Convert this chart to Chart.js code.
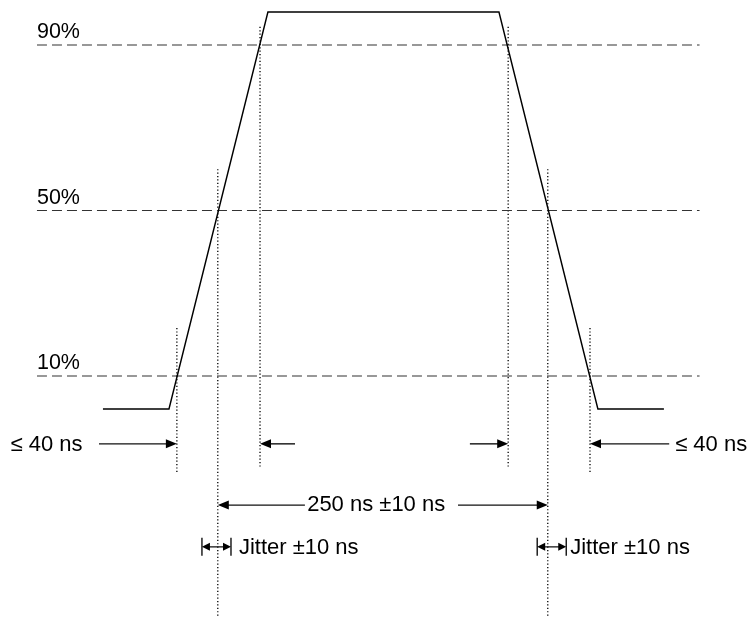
<!DOCTYPE html>
<html>
<head>
<meta charset="utf-8">
<script src="https://cdn.jsdelivr.net/npm/chart.js@4/dist/chart.umd.min.js"></script>
<style>
  html, body { margin: 0; padding: 0; background: #fff; }
  #wrap { width: 748px; height: 617px; }
</style>
</head>
<body>
<div id="wrap"><canvas id="chart"></canvas></div>
<script>
// waveform (time in ns, level in % of swing)
const waveTime = [-87, -37, 38, 213, 288, 338];
const waveLevel = [2, 2, 98, 98, 2, 2];

// threshold lines
const thresholdLevels = [10, 50, 90];
const thresholdLabels = ['10%', '50%', '90%'];
const thresholdSpan = [-137, 365];

// where the edges cross the thresholds
const crossingTimes = [-31, 0, 32, 220, 250, 282];
const crossingLevels = [10, 50, 90, 90, 50, 10];

// dimension annotations
const edgeLabel = '≤ 40 ns';
const periodLabel = '250 ns ±10 ns';
const jitterLabel = 'Jitter ±10 ns';
const jitterLeft = [-12, 10];
const jitterRight = [242, 264];

// layout only
const guideExtent = { 10: [21.6, -13.2], 50: [60, -48.3], 90: [94.4, -12] };
const rowEdge = -6.4, rowPeriod = -21.2, rowJitter = -31.3;

const FONT = '22px "Liberation Sans", Arial, sans-serif';
const LABEL_FONT = '21.5px "Liberation Sans", Arial, sans-serif';

const datasets = [];
datasets.push({
    data: waveTime.map((t, i) => ({ x: t, y: waveLevel[i] })),
    borderColor: '#000',
    borderWidth: 1.5
});
thresholdLevels.forEach(lv => {
    datasets.push({
        data: [{ x: thresholdSpan[0], y: lv }, { x: thresholdSpan[1], y: lv }],
        borderColor: '#333',
        borderWidth: 1.2,
        borderDash: [10, 5]
    });
});
crossingTimes.forEach((t, i) => {
    const ext = guideExtent[crossingLevels[i]];
    datasets.push({
        data: [{ x: t, y: ext[0] }, { x: t, y: ext[1] }],
        borderColor: '#000',
        borderWidth: 1.3,
        borderDash: [1.2, 2.2]
    });
});

function arrowHead(ctx, x, y, dir, len, half) {
    ctx.beginPath();
    ctx.moveTo(x, y);
    ctx.lineTo(x - dir * len, y - half);
    ctx.lineTo(x - dir * len, y + half);
    ctx.closePath();
    ctx.fill();
}

function arrow(ctx, x0, x1, y) {
    const dir = x1 > x0 ? 1 : -1;
    ctx.beginPath();
    ctx.moveTo(x0, y);
    ctx.lineTo(x1 - dir * 8, y);
    ctx.stroke();
    arrowHead(ctx, x1, y, dir, 11, 4.5);
}

const annotate = {
    id: 'annotate',
    afterDatasetsDraw(chart) {
        const ctx = chart.ctx;
        const xs = chart.scales.x, ys = chart.scales.y;
        const px = v => xs.getPixelForValue(v);
        const py = v => ys.getPixelForValue(v);
        ctx.save();
        ctx.fillStyle = '#000';
        ctx.strokeStyle = '#111';
        ctx.lineWidth = 1.4;

        // threshold labels
        ctx.font = LABEL_FONT;
        ctx.textAlign = 'left';
        ctx.textBaseline = 'alphabetic';
        thresholdLevels.forEach((lv, i) => {
            ctx.fillText(thresholdLabels[i], px(thresholdSpan[0]), py(lv) - 7);
        });
        ctx.font = FONT;

        // edge time arrows
        const ye = py(rowEdge);
        arrow(ctx, px(-90), px(crossingTimes[0]), ye);
        arrow(ctx, px(58.5), px(crossingTimes[2]), ye);
        arrow(ctx, px(191), px(crossingTimes[3]), ye);
        arrow(ctx, px(342), px(crossingTimes[5]), ye);
        ctx.textBaseline = 'middle';
        ctx.textAlign = 'right';
        ctx.fillText(edgeLabel, px(-102.5), ye + 1);
        ctx.textAlign = 'left';
        ctx.fillText(edgeLabel, px(346.5), ye + 1);

        // period
        const yp = py(rowPeriod);
        arrow(ctx, px(66), px(crossingTimes[1]), yp);
        arrow(ctx, px(182), px(crossingTimes[4]), yp);
        ctx.textAlign = 'center';
        ctx.fillText(periodLabel, px(120), yp);

        // jitter
        const yj = py(rowJitter);
        [jitterLeft, jitterRight].forEach(j => {
            const a = px(j[0]), b = px(j[1]);
            ctx.beginPath();
            ctx.moveTo(a, yj - 9); ctx.lineTo(a, yj + 9);
            ctx.moveTo(b, yj - 9); ctx.lineTo(b, yj + 9);
            ctx.moveTo(a + 6, yj); ctx.lineTo(b - 6, yj);
            ctx.stroke();
            arrowHead(ctx, a, yj, -1, 8, 4);
            arrowHead(ctx, b, yj, 1, 8, 4);
        });
        ctx.textAlign = 'left';
        ctx.fillText(jitterLabel, px(16), yj + 1);
        ctx.fillText(jitterLabel, px(267), yj + 1);
        ctx.restore();
    }
};

new Chart(document.getElementById('chart'), {
    type: 'scatter',
    data: { datasets: datasets },
    options: {
        responsive: true,
        maintainAspectRatio: false,
        animation: false,
        layout: { padding: 0 },
        showLine: true,
        elements: {
            point: { radius: 0, hoverRadius: 0 },
            line: { tension: 0, fill: false }
        },
        plugins: { legend: { display: false }, tooltip: { enabled: false } },
        scales: {
            x: { type: 'linear', display: false, min: -165, max: 401.7 },
            y: { type: 'linear', display: false, min: -48.25, max: 100.88 }
        }
    },
    plugins: [annotate]
});
</script>
</body>
</html>
